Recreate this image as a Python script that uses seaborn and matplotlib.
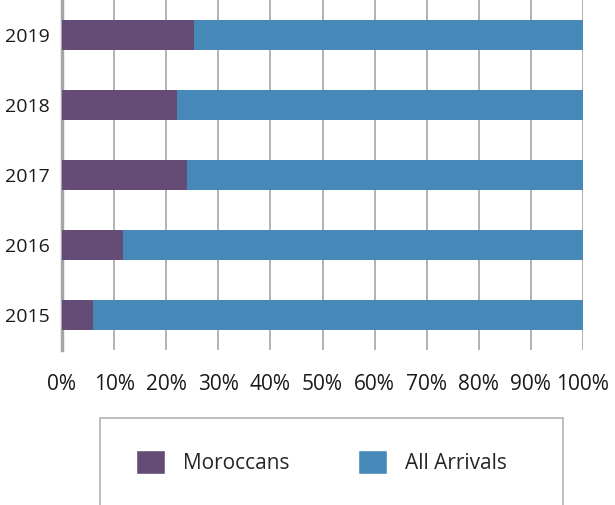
import numpy as np
import pandas as pd
import matplotlib
matplotlib.use("Agg")
import matplotlib.pyplot as plt
import seaborn as sns
from matplotlib.patches import Patch, Rectangle

years = ["2019", "2018", "2017", "2016", "2015"]
moroccans = [25.3, 22.1, 24.0, 11.7, 5.9]
all_arrivals = [100 - m for m in moroccans]
x_ticks = [0, 10, 20, 30, 40, 50, 60, 70, 80, 90, 100]

purple = "#654C77"
blue = "#4689B8"

sns.set_theme(style="white")
plt.rcParams["font.family"] = ["Open Sans", "DejaVu Sans"]

df = pd.DataFrame({"year": years, "moroccans": moroccans, "all": all_arrivals})
df["total"] = df["moroccans"] + df["all"]

fig = plt.figure(figsize=(6.15, 5.05), dpi=100)
ax = fig.add_axes([62 / 615, 1 - 350 / 505, 521 / 615, 350 / 505])

# full-length bar first, Moroccans share drawn on top of it
sns.barplot(data=df, x="total", y="year", order=years, color=blue,
            width=0.44, saturation=1, linewidth=0, ax=ax, zorder=2)
sns.barplot(data=df, x="moroccans", y="year", order=years, color=purple,
            width=0.44, saturation=1, linewidth=0, ax=ax, zorder=3)

ax.set_xlim(0, 100)
ax.set_ylim(4.5, -0.5)
ax.set_xticks(x_ticks)
ax.set_xticklabels([f"{t}%" for t in x_ticks])
ax.set_xlabel("")
ax.set_ylabel("")
ax.xaxis.grid(True, color="#A6A6A6", linewidth=1.2, zorder=0)
ax.set_axisbelow(True)
for s in ["top", "right", "bottom"]:
    ax.spines[s].set_visible(False)
ax.spines["left"].set_color("#A6A6A6")
ax.spines["left"].set_linewidth(2.5)
ax.tick_params(axis="x", length=0, pad=17, labelsize=15, colors="#1a1a1a")
ax.tick_params(axis="y", length=0, pad=9, labelsize=14, colors="#1a1a1a")

# legend box (bottom edge runs off the figure)
fig.patches.append(Rectangle((100 / 615, -0.05), 463 / 615, 0.05 + (505 - 418) / 505,
                             transform=fig.transFigure, fill=False,
                             edgecolor="#B3B3B3", linewidth=1.2))
handles = [Patch(facecolor=purple, label="Moroccans"),
           Patch(facecolor=blue, label="All Arrivals")]
fig.legend(handles=handles, loc="center left", ncol=2, frameon=False,
           bbox_to_anchor=(136 / 615, 1 - 462 / 505), fontsize=15,
           borderpad=0, borderaxespad=0,
           handlelength=1.4, handleheight=1.4, handletextpad=0.85,
           columnspacing=3.3)

fig.savefig("out.png", dpi=100)
